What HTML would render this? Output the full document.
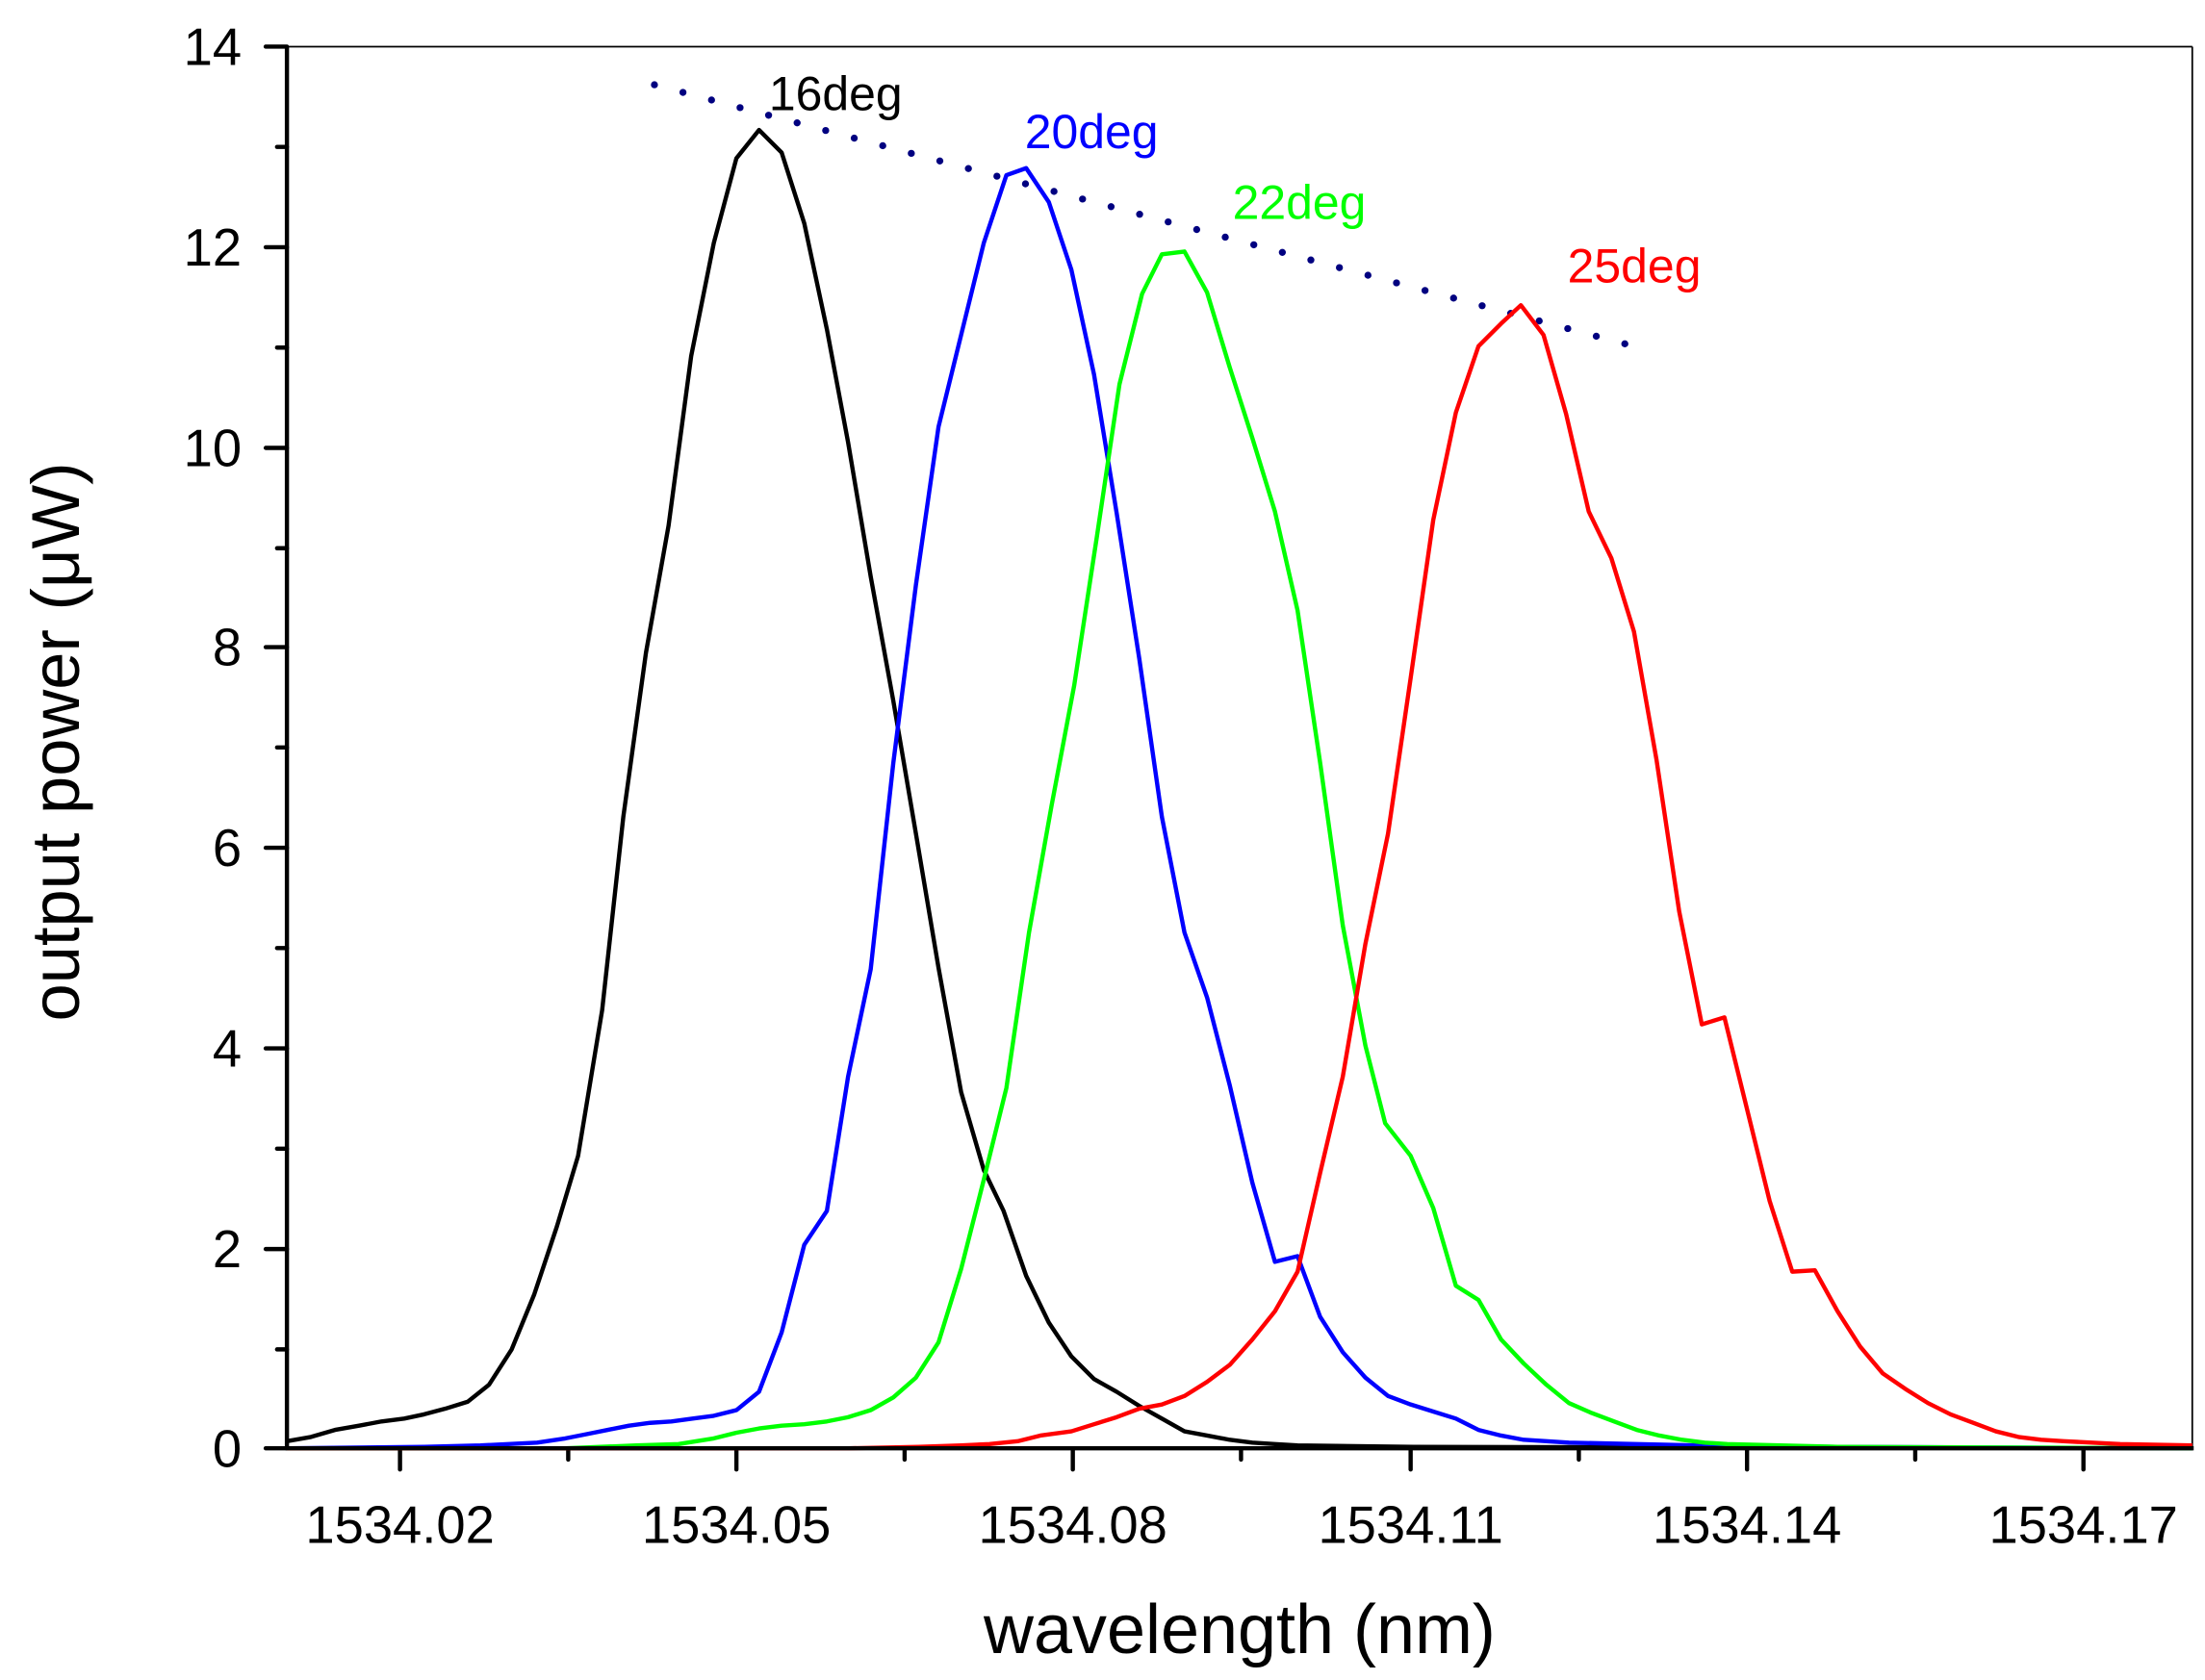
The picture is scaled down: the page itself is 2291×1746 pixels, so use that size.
<!DOCTYPE html>
<html><head><meta charset="utf-8"><style>
html,body{margin:0;padding:0;background:#fff;}
svg{display:block;}
text{font-family:"Liberation Sans",Arial,sans-serif;}
</style></head><body>
<svg width="2291" height="1746" viewBox="0 0 1560 1189" preserveAspectRatio="none" xmlns="http://www.w3.org/2000/svg">
<rect width="1560" height="1189" fill="#fff"/>
<line x1="203" y1="33" x2="1551" y2="33" stroke="#000" stroke-width="1.2"/>
<line x1="1551" y1="33" x2="1551" y2="1025" stroke="#000" stroke-width="1.2"/>
<g stroke="#000" stroke-width="3" stroke-linecap="round">
<line x1="188" y1="33" x2="203" y2="33"/><line x1="188" y1="175" x2="203" y2="175"/>
<line x1="188" y1="317" x2="203" y2="317"/><line x1="188" y1="458" x2="203" y2="458"/>
<line x1="188" y1="600" x2="203" y2="600"/><line x1="188" y1="742" x2="203" y2="742"/>
<line x1="188" y1="884" x2="203" y2="884"/><line x1="188" y1="1025" x2="203" y2="1025"/>
<line x1="196" y1="104" x2="203" y2="104"/><line x1="196" y1="246" x2="203" y2="246"/>
<line x1="196" y1="388" x2="203" y2="388"/><line x1="196" y1="529" x2="203" y2="529"/>
<line x1="196" y1="671" x2="203" y2="671"/><line x1="196" y1="813" x2="203" y2="813"/>
<line x1="196" y1="955" x2="203" y2="955"/>
<line x1="283" y1="1025" x2="283" y2="1040"/><line x1="521" y1="1025" x2="521" y2="1040"/>
<line x1="759" y1="1025" x2="759" y2="1040"/><line x1="998" y1="1025" x2="998" y2="1040"/>
<line x1="1236" y1="1025" x2="1236" y2="1040"/><line x1="1474" y1="1025" x2="1474" y2="1040"/>
<line x1="402" y1="1025" x2="402" y2="1033"/><line x1="640" y1="1025" x2="640" y2="1033"/>
<line x1="878" y1="1025" x2="878" y2="1033"/><line x1="1117" y1="1025" x2="1117" y2="1033"/>
<line x1="1355" y1="1025" x2="1355" y2="1033"/>
</g>
<g font-size="37" text-anchor="end" fill="#000">
<text x="171" y="46">14</text><text x="171" y="188">12</text><text x="171" y="330">10</text>
<text x="171" y="471">8</text><text x="171" y="613">6</text><text x="171" y="755">4</text>
<text x="171" y="897">2</text><text x="171" y="1038">0</text>
</g>
<g font-size="37" text-anchor="middle" fill="#000">
<text x="283" y="1092">1534.02</text><text x="521" y="1092">1534.05</text><text x="759" y="1092">1534.08</text>
<text x="998" y="1092">1534.11</text><text x="1236" y="1092">1534.14</text><text x="1474" y="1092">1534.17</text>
</g>
<text x="877" y="1170" font-size="49" text-anchor="middle">wavelength (nm)</text>
<text transform="translate(56,525) rotate(-90)" font-size="48" text-anchor="middle">output power (μW)</text>
<line x1="463" y1="60" x2="1167" y2="248" stroke="#000080" stroke-width="5" stroke-linecap="round" stroke-dasharray="0 20.9"/>
<g fill="none" stroke-width="3" stroke-linejoin="round">
<polyline stroke="#000" points="203,1020 220,1017 237,1012 254,1009 270,1006 286,1004 300,1001 315,997 331,992 346,980 362,955 378,916 394,868 409,818 426,715 441,578 457,462 473,372 489,252 505,172 521,112 537,92 553,108 569,158 585,233 600,313 616,408 632,496 648,590 664,685 680,773 696,828 710,857 726,903 742,936 758,960 774,976 790,985 806,995 822,1004 838,1013 854,1016 870,1019 886,1021 902,1022 918,1023 1000,1024 1551,1025"/>
<polyline stroke="#0000ff" points="203,1025 300,1024 340,1023 380,1021 400,1018 415,1015 430,1012 445,1009 460,1007 475,1006 490,1004 505,1002 521,998 537,985 553,943 569,881 585,857 600,762 616,686 632,540 648,414 664,302 680,237 696,172 712,124 726,119 742,143 758,191 774,265 790,363 806,466 822,578 838,660 854,706 870,768 886,837 902,893 918,889 934,932 950,957 966,975 982,988 998,994 1014,999 1030,1004 1046,1012 1062,1016 1078,1019 1094,1020 1110,1021 1200,1023 1300,1024 1551,1025"/>
<polyline stroke="#00ff00" points="203,1025 400,1025 450,1023 480,1022 505,1018 521,1014 537,1011 553,1009 569,1008 585,1006 600,1003 616,998 632,989 648,975 664,950 680,898 696,835 712,770 728,660 744,570 760,485 776,380 792,272 808,208 822,180 838,178 854,207 870,260 886,310 902,362 918,432 934,540 950,655 966,740 980,795 998,818 1014,855 1030,910 1046,920 1062,948 1078,965 1094,980 1110,993 1126,1000 1142,1006 1158,1012 1174,1016 1190,1019 1206,1021 1222,1022 1300,1024 1551,1025"/>
<polyline stroke="#ff0000" points="203,1025 600,1025 650,1024 680,1023 700,1022 720,1020 736,1016 758,1013 774,1008 790,1003 806,997 822,994 838,988 854,978 870,966 886,948 902,928 918,900 934,830 950,762 966,668 982,590 998,480 1014,368 1030,292 1046,245 1062,229 1076,216 1092,237 1108,293 1124,362 1140,395 1156,447 1172,538 1188,645 1204,725 1220,720 1236,785 1252,850 1268,900 1284,899 1300,928 1316,953 1332,972 1348,983 1364,993 1380,1001 1396,1007 1412,1013 1428,1017 1444,1019 1460,1020 1480,1021 1500,1022 1551,1023"/>
</g>
<line x1="203" y1="33" x2="203" y2="1026" stroke="#000" stroke-width="3"/>
<line x1="202" y1="1025" x2="1552" y2="1025" stroke="#000" stroke-width="3"/>
<g font-size="34">
<text x="544" y="78" fill="#000">16deg</text>
<text x="725" y="105" fill="#0000ff">20deg</text>
<text x="872" y="155" fill="#00ff00">22deg</text>
<text x="1109" y="200" fill="#ff0000">25deg</text>
</g>
</svg>
</body></html>
